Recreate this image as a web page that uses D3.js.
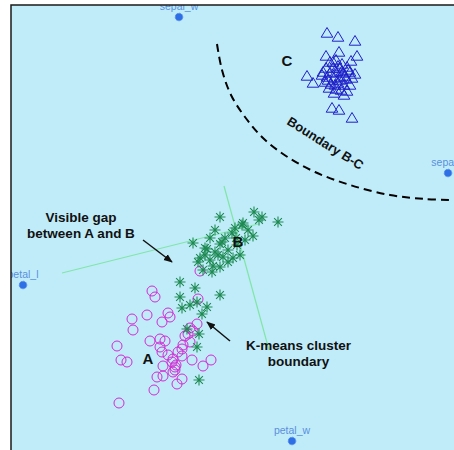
<!DOCTYPE html>
<html>
<head>
<meta charset="utf-8">
<style>
  body { margin: 0; background: #fff; }
  svg { display: block; font-family: "Liberation Sans", Arial, sans-serif; }
</style>
</head>
<body>
<svg id="chart" width="454" height="450"></svg>
<script src="https://cdn.jsdelivr.net/npm/d3@7/dist/d3.min.js"></script>
<script>
// cluster A - circles
var clusterA = [
  [-1.56,-1.22],[-1.50,-1.34],[-1.66,-1.70],[-1.96,-1.78],[-1.94,-2.00],[-1.24,-1.66],
  [-1.20,-1.74],[-1.36,-1.84],[-2.26,-2.32],[-2.18,-2.60],[-2.06,-2.64],[-1.60,-2.22],
  [-1.40,-2.18],[-1.30,-2.22],[-0.90,-2.12],[-0.84,-2.08],[-1.36,-2.44],[-0.96,-2.38],
  [-0.96,-2.52],[-1.14,-2.58],[-0.76,-2.60],[-0.54,-2.72],[-0.38,-2.60],[-1.34,-2.72],
  [-1.10,-2.74],[-1.46,-2.94],[-1.34,-2.92],[-0.96,-2.98],[-1.06,-3.08],[-1.52,-3.20],
  [-2.22,-3.46],[-0.60,-0.82],[-0.64,-1.38],[-0.66,-1.88],[-0.80,-2.24],[-1.10,-2.80],
  [-1.14,-2.84],[-1.04,-2.44],[-1.24,-2.50],[-0.94,-2.30],[-0.80,-1.96],[-1.40,-2.34],
  [-1.08,-2.70],[-0.74,-2.02],[-1.16,-2.64]
];

// cluster B - asterisks
var clusterB = [
  [-0.20,0.26],[-0.30,0.00],[-0.74,-0.26],[0.26,0.14],[0.48,0.36],[0.58,0.20],
  [0.46,-0.12],[0.96,0.16],[-0.50,-0.36],[-0.16,-0.24],[0.04,-0.06],[0.06,-0.56],
  [-0.20,-0.74],[-0.40,-0.60],[-0.64,-0.64],[-0.54,-0.80],[-0.36,-0.84],[-1.00,-1.04],
  [-0.70,-1.16],[-0.20,-1.30],[-1.00,-1.34],[-0.46,-1.54],[-0.96,-1.56],[-0.24,-0.50],
  [-0.04,-0.40],[0.20,-0.50],[0.24,0.10],[-0.46,-0.38],[-0.20,-0.28],[-0.60,-0.56],
  [-0.34,-0.72],[-0.66,-1.44],[-0.56,-1.68],[-0.86,-1.98],[-0.62,-2.08],[-0.66,-2.34],
  [-0.62,-3.00],[-0.10,-0.16],[0.14,-0.30],[-0.04,-0.64],[-0.30,-0.44],[0.30,-0.20],
  [0.10,0.04],[-0.40,-0.16],[0.36,0.00],[-0.50,-0.50],[0.12,-0.16],[-0.80,-1.50],
  [-0.14,-0.54],[0.64,0.26]
];

// cluster C - triangles
var clusterC = [
  [1.94,3.94],[2.16,3.86],[2.50,3.78],[2.18,3.56],[1.92,3.48],[2.54,3.48],[2.42,3.38],
  [1.54,3.08],[1.66,2.94],[2.08,2.74],[2.28,2.70],[2.04,2.44],[2.18,2.40],[2.44,2.24],
  [2.00,3.36],[2.12,3.40],[2.24,3.32],[1.92,3.24],[2.06,3.24],[2.20,3.24],[2.34,3.26],
  [1.86,3.16],[2.00,3.14],[2.12,3.16],[2.26,3.14],[2.40,3.16],[2.50,3.12],[1.94,3.06],
  [2.08,3.04],[2.20,3.06],[2.32,3.02],[2.44,3.04],[1.90,2.96],[2.02,2.92],[2.16,2.94],
  [2.28,2.90],[2.40,2.90],[1.98,2.84],[2.12,2.82],[2.22,2.80],[2.34,2.78],[1.84,3.10],
  [2.16,3.28],[2.30,3.08],[2.06,3.36],[2.20,3.00],[1.96,3.00],[2.36,3.20],[2.10,2.90],
  [2.24,3.18]
];

var variables = [
  { name: "sepal_w", x: -1.02, y: 4.26 },
  { name: "sepal_l", x: 4.36, y: 1.14 },
  { name: "petal_l", x: -4.14, y: -1.10 },
  { name: "petal_w", x: 1.24, y: -4.22 }
];

var boundaryBC = [
  [-0.26,3.72],[-0.16,3.20],[0.02,2.70],[0.30,2.26],[0.66,1.84],[1.12,1.48],
  [1.70,1.16],[2.40,0.90],[3.20,0.70],[3.90,0.62],[4.52,0.60]
];

var kmeansLines = [
  [[-3.36,-0.86],[0.56,0.12]],
  [[-0.12,0.88],[0.78,-2.40]]
];

var arrows = [
  [[-1.74,-0.20],[-1.16,-0.64]],
  [[0.00,-2.22],[-0.46,-1.84]]
];

var notes = [
  { lines: ["Visible gap", "between A and B"], x: -2.98, y: 0.16, size: 13.5 },
  { lines: ["K-means cluster", "boundary"], x: 1.37, y: -2.40, size: 13.5 },
  { lines: ["A"], x: -1.64, y: -2.68, size: 15 },
  { lines: ["B"], x: 0.16, y: -0.34, size: 15 },
  { lines: ["C"], x: 1.14, y: 3.28, size: 15 }
];

var svg = d3.select("#chart"),
    W = +svg.attr("width"),
    H = +svg.attr("height"),
    padL = 11, padT = 5;

var x = d3.scaleLinear().domain([-4.38, 4.48]).range([padL, W]);
var y = d3.scaleLinear().domain([4.5, -4.4]).range([padT, H]);

var defs = svg.append("defs");
defs.append("clipPath").attr("id", "plotclip")
  .append("rect").attr("x", padL).attr("y", padT).attr("width", W - padL).attr("height", H - padT);

var marker = defs.append("marker")
    .attr("id", "head")
    .attr("viewBox", "0 0 10 10")
    .attr("refX", 9).attr("refY", 5)
    .attr("markerWidth", 9).attr("markerHeight", 9)
    .attr("markerUnits", "userSpaceOnUse")
    .attr("orient", "auto");
marker.append("path").attr("d", "M0,1 L10,5 L0,9 Z").attr("fill", "#111");

svg.append("rect")
    .attr("x", padL).attr("y", padT)
    .attr("width", W - padL).attr("height", H - padT)
    .attr("fill", "#c0ecfa");

var g = svg.append("g").attr("clip-path", "url(#plotclip)");

// k-means boundary lines
g.selectAll(".km").data(kmeansLines).enter().append("line")
    .attr("x1", function(d) { return x(d[0][0]); })
    .attr("y1", function(d) { return y(d[0][1]); })
    .attr("x2", function(d) { return x(d[1][0]); })
    .attr("y2", function(d) { return y(d[1][1]); })
    .attr("stroke", "#7fe6a6")
    .attr("stroke-width", 1.2);

// dashed boundary B-C
var curve = d3.line()
    .x(function(d) { return x(d[0]); })
    .y(function(d) { return y(d[1]); })
    .curve(d3.curveCatmullRom);

g.append("path")
    .datum(boundaryBC)
    .attr("d", curve)
    .attr("fill", "none")
    .attr("stroke", "#000")
    .attr("stroke-width", 2)
    .attr("stroke-dasharray", "8,5");

// A circles
g.selectAll(".ca").data(clusterA).enter().append("circle")
    .attr("cx", function(d) { return x(d[0]); })
    .attr("cy", function(d) { return y(d[1]); })
    .attr("r", 5)
    .attr("fill", "none")
    .attr("stroke", "#d22ad2")
    .attr("stroke-width", 1);

// B asterisks
var star = "";
for (var i = 0; i < 4; i++) {
  var a = i * Math.PI / 4, r = 5.5;
  star += "M" + (-r * Math.cos(a)).toFixed(2) + "," + (-r * Math.sin(a)).toFixed(2) +
          "L" + (r * Math.cos(a)).toFixed(2) + "," + (r * Math.sin(a)).toFixed(2);
}
g.selectAll(".cb").data(clusterB).enter().append("path")
    .attr("transform", function(d) { return "translate(" + x(d[0]) + "," + y(d[1]) + ")"; })
    .attr("d", star)
    .attr("stroke", "#1e8a52")
    .attr("stroke-width", 1.1);

// C triangles
g.selectAll(".cc").data(clusterC).enter().append("path")
    .attr("transform", function(d) { return "translate(" + x(d[0]) + "," + y(d[1]) + ")"; })
    .attr("d", "M0,-5.5 L5.8,4.2 L-5.8,4.2 Z")
    .attr("fill", "none")
    .attr("stroke", "#1f1fc8")
    .attr("stroke-width", 1);

// variable markers
var vg = g.selectAll(".var").data(variables).enter().append("g")
    .attr("transform", function(d) { return "translate(" + x(d.x) + "," + y(d.y) + ")"; });
vg.append("circle").attr("r", 3.8).attr("fill", "#2f6fe6")
    .attr("stroke", "#5a8fef").attr("stroke-width", 1).attr("stroke-dasharray", "1.5,1");
vg.append("text")
    .attr("y", -7)
    .attr("text-anchor", "middle")
    .attr("font-size", 10.5)
    .attr("fill", "#5b8fdc")
    .text(function(d) { return d.name; });

// arrows
g.selectAll(".arr").data(arrows).enter().append("line")
    .attr("x1", function(d) { return x(d[0][0]); })
    .attr("y1", function(d) { return y(d[0][1]); })
    .attr("x2", function(d) { return x(d[1][0]); })
    .attr("y2", function(d) { return y(d[1][1]); })
    .attr("stroke", "#111")
    .attr("stroke-width", 1.5)
    .attr("marker-end", "url(#head)");

// notes
var tn = g.selectAll(".note").data(notes).enter().append("text")
    .attr("x", function(d) { return x(d.x); })
    .attr("y", function(d) { return y(d.y); })
    .attr("text-anchor", "middle")
    .attr("font-weight", "bold")
    .attr("font-size", function(d) { return d.size; })
    .attr("fill", "#111");
tn.selectAll("tspan").data(function(d) { return d.lines.map(function(l, i) { return { t: l, i: i, x: x(d.x) }; }); })
  .enter().append("tspan")
    .attr("x", function(d) { return d.x; })
    .attr("dy", function(d) { return d.i ? 15.5 : 0; })
    .text(function(d) { return d.t; });

g.append("text")
    .attr("transform", "translate(" + x(1.86) + "," + y(1.66) + ") rotate(32)")
    .attr("text-anchor", "middle")
    .attr("font-weight", "bold")
    .attr("font-size", 13)
    .attr("fill", "#111")
    .text("Boundary B-C");

// frame
svg.append("path")
    .attr("d", "M" + padL + "," + H + "V" + padT + "H" + W)
    .attr("fill", "none")
    .attr("stroke", "#1a1a1a")
    .attr("stroke-width", 1.5);
</script>
</body>
</html>
